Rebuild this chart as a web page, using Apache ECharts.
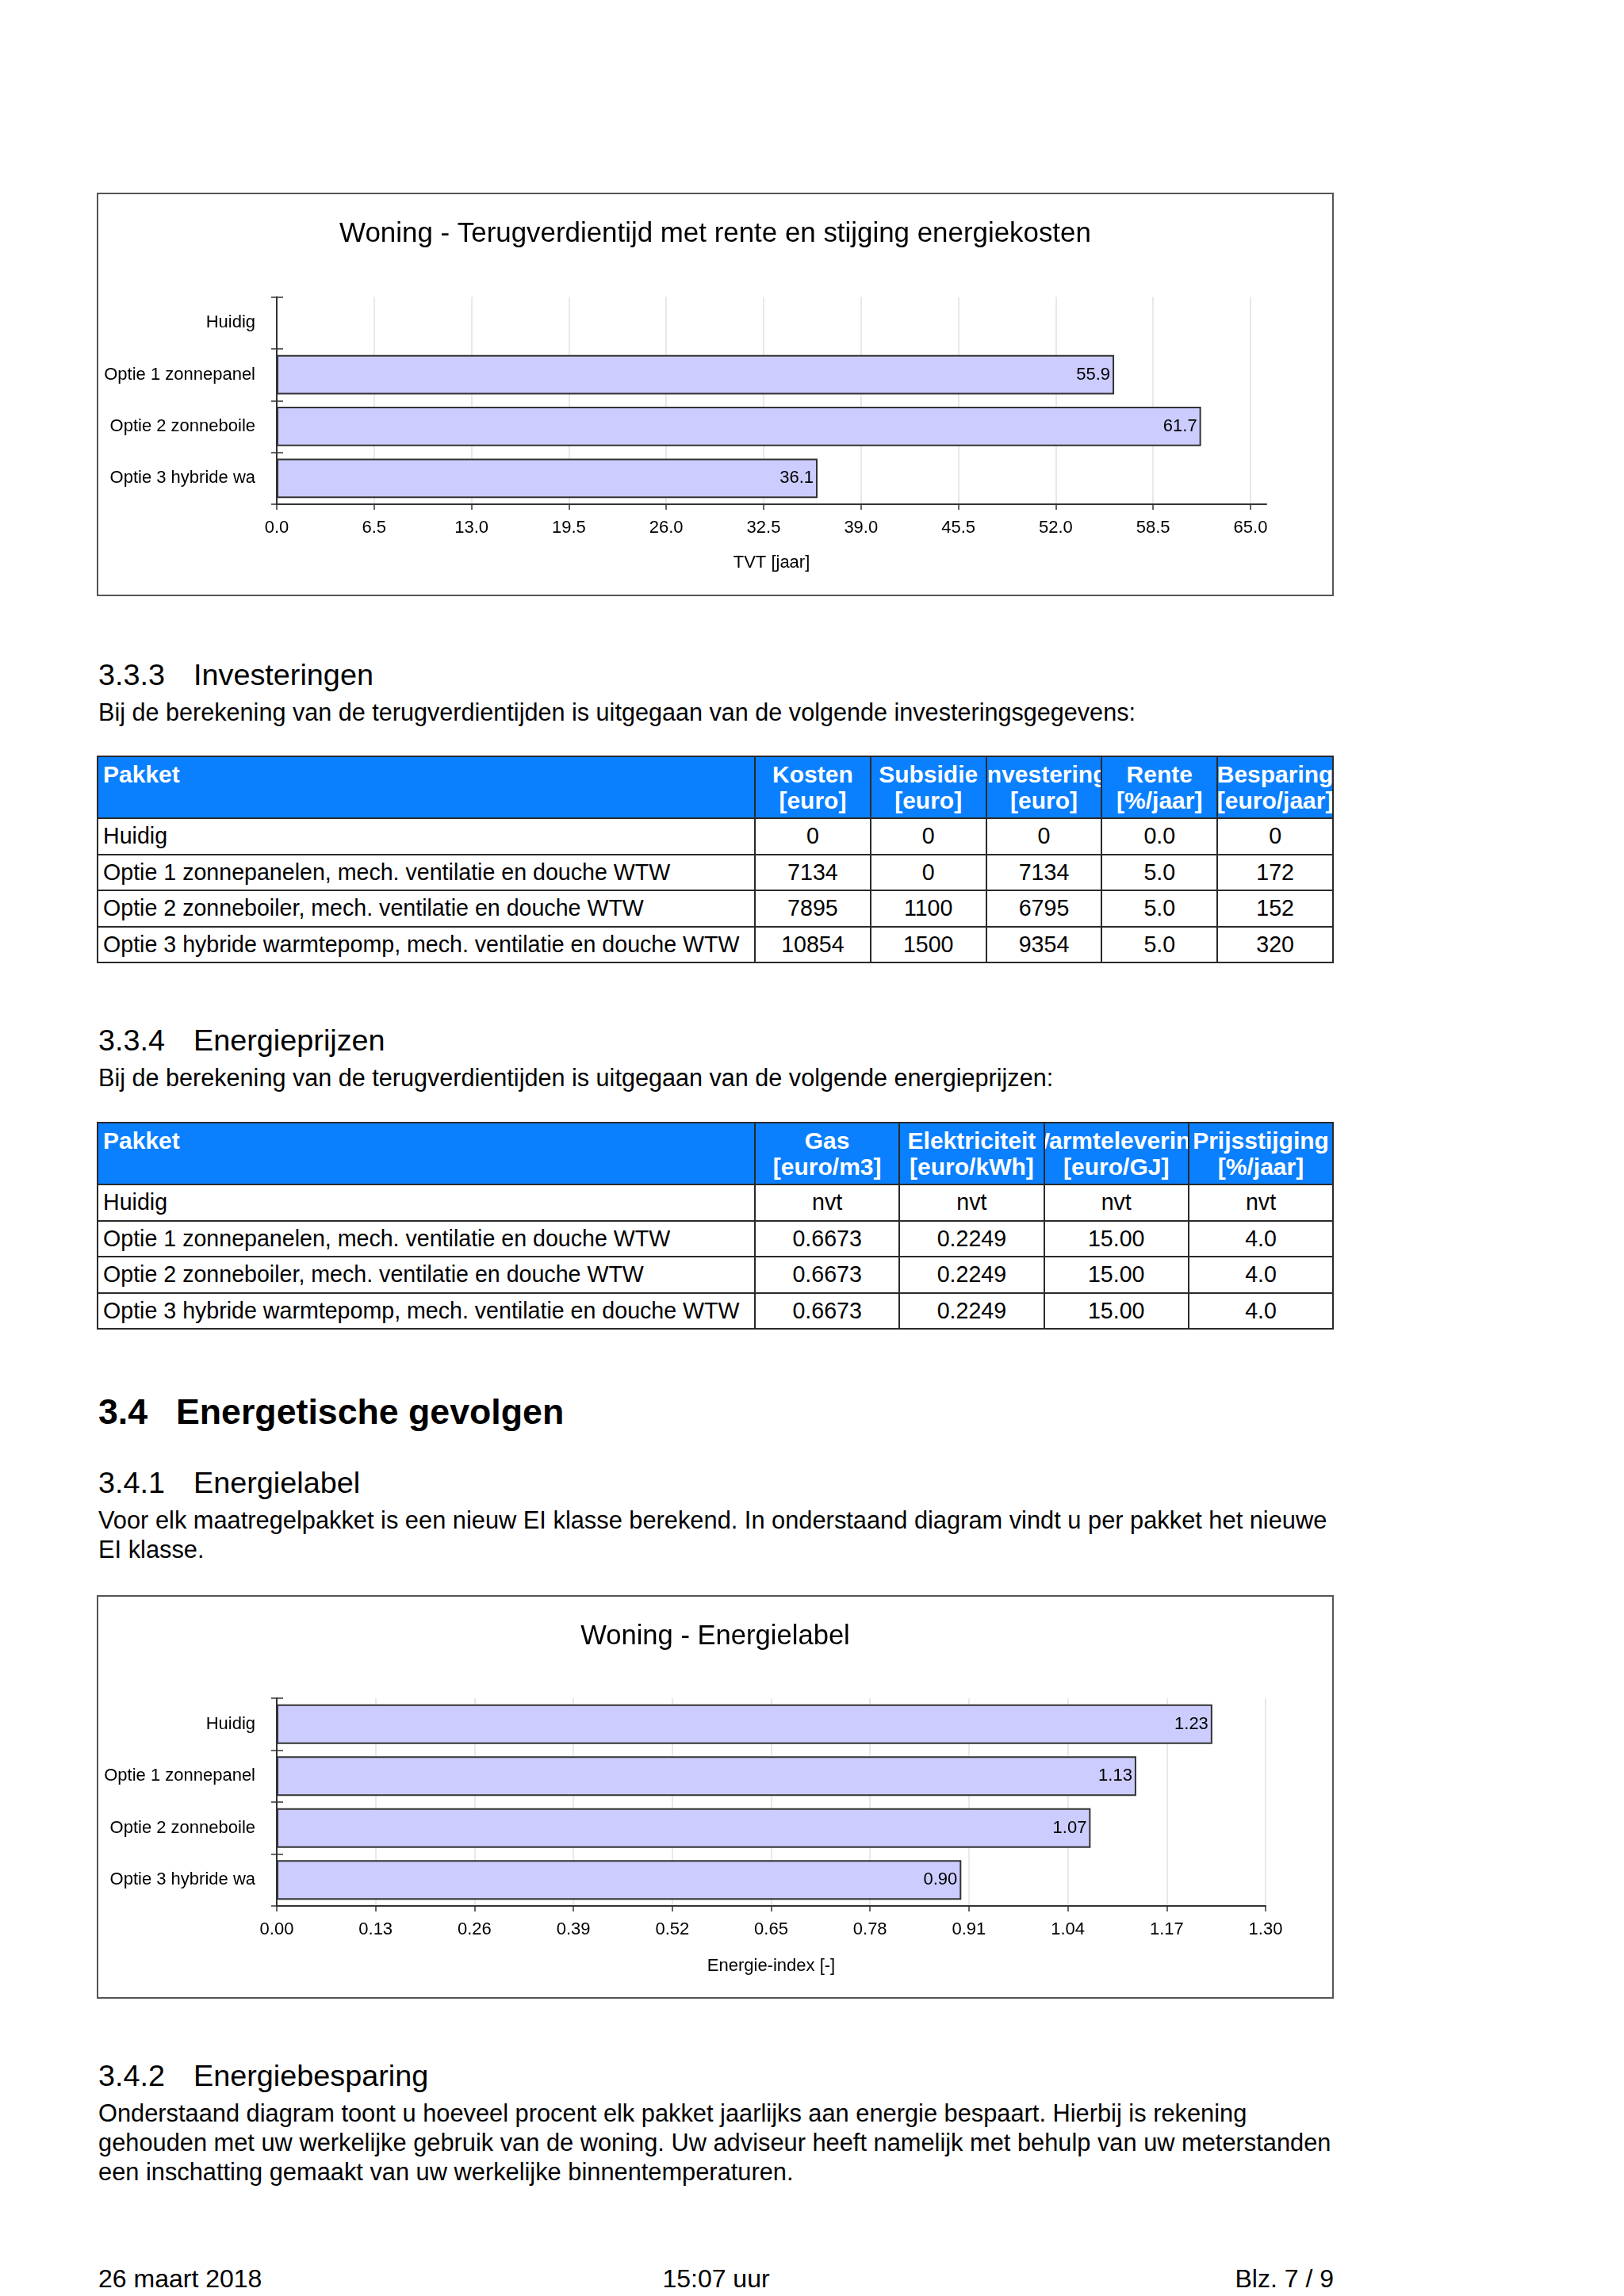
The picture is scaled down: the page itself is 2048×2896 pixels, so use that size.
<!DOCTYPE html>
<html>
<head>
<meta charset="utf-8">
<script src="https://cdn.jsdelivr.net/npm/echarts@6/dist/echarts.min.js"></script>
<style>
html,body{margin:0;padding:0;background:#fff;}
body{width:2048px;height:2896px;position:relative;font-family:"Liberation Sans",Arial,sans-serif;color:#000;overflow:hidden;}
.t{position:absolute;white-space:nowrap;}
.chart{position:absolute;left:122px;width:1560px;height:509px;}
.frame{position:absolute;left:122px;width:1560px;height:509px;border:2px solid #555;box-sizing:border-box;pointer-events:none;}
table{position:absolute;left:122px;border-collapse:collapse;table-layout:fixed;font-size:28.6px;}
td,th{border:2px solid #2a2a2a;padding:0;overflow:hidden;}
th{background:#0a80ff;color:#fff;font-weight:bold;vertical-align:top;height:76px;font-size:30px;}
th .h{display:flex;flex-direction:column;align-items:center;overflow:hidden;line-height:33px;padding-top:5px;}
th .h span{white-space:nowrap;}
th.first .h{align-items:flex-start;padding-left:6px;}
td{height:43.5px;text-align:center;white-space:nowrap;vertical-align:middle;}
td.first{text-align:left;padding-left:6px;}
</style>
</head>
<body>

<div class="t" style="left:124px;top:833px;font-size:37.8px;line-height:37.8px;">3.3.3</div>
<div class="t" style="left:244px;top:833px;font-size:37.8px;line-height:37.8px;">Investeringen</div>
<div class="t" style="left:124px;top:882.5px;font-size:30.6px;line-height:30.6px;">Bij de berekening van de terugverdientijden is uitgegaan van de volgende investeringsgegevens:</div>
<table id="tab1" style="top:953px;width:1560px;"></table>

<div class="t" style="left:124px;top:1294px;font-size:37.8px;line-height:37.8px;">3.3.4</div>
<div class="t" style="left:244px;top:1294px;font-size:37.8px;line-height:37.8px;">Energieprijzen</div>
<div class="t" style="left:124px;top:1343.5px;font-size:30.6px;line-height:30.6px;">Bij de berekening van de terugverdientijden is uitgegaan van de volgende energieprijzen:</div>
<table id="tab2" style="top:1415px;width:1560px;"></table>

<div class="t" style="left:124px;top:1758.5px;font-size:44.7px;line-height:44.7px;font-weight:bold;">3.4</div>
<div class="t" style="left:222px;top:1758.5px;font-size:44.7px;line-height:44.7px;font-weight:bold;">Energetische gevolgen</div>
<div class="t" style="left:124px;top:1852px;font-size:37.8px;line-height:37.8px;">3.4.1</div>
<div class="t" style="left:244px;top:1852px;font-size:37.8px;line-height:37.8px;">Energielabel</div>
<div class="t" style="left:124px;top:1898.5px;font-size:30.8px;line-height:37px;">Voor elk maatregelpakket is een nieuw EI klasse berekend. In onderstaand diagram vindt u per pakket het nieuwe<br>EI klasse.</div>

<div class="t" style="left:124px;top:2600px;font-size:37.8px;line-height:37.8px;">3.4.2</div>
<div class="t" style="left:244px;top:2600px;font-size:37.8px;line-height:37.8px;">Energiebesparing</div>
<div class="t" style="left:124px;top:2646.5px;font-size:30.8px;line-height:37px;">Onderstaand diagram toont u hoeveel procent elk pakket jaarlijks aan energie bespaart. Hierbij is rekening<br>gehouden met uw werkelijke gebruik van de woning. Uw adviseur heeft namelijk met behulp van uw meterstanden<br>een inschatting gemaakt van uw werkelijke binnentemperaturen.</div>

<div class="t" style="left:124px;top:2858px;font-size:32px;line-height:32px;">26 maart 2018</div>
<div class="t" style="left:124px;width:1558px;text-align:center;top:2858px;font-size:32px;line-height:32px;">15:07 uur</div>
<div class="t" style="left:124px;width:1558px;text-align:right;top:2858px;font-size:32px;line-height:32px;">Blz. 7 / 9</div>

<div id="c1" class="chart" style="top:243px;"></div>
<div class="frame" style="top:243px;"></div>
<div id="c2" class="chart" style="top:2012px;"></div>
<div class="frame" style="top:2012px;"></div>

<script>
// ---------- data ----------
const chartCategories = ['Huidig', 'Optie 1 zonnepanel', 'Optie 2 zonneboile', 'Optie 3 hybride wa'];
const tvtValues = [null, 55.9, 61.7, 36.1];
const tvtTicks = [0, 6.5, 13.0, 19.5, 26.0, 32.5, 39.0, 45.5, 52.0, 58.5, 65.0];
const eiValues = [1.23, 1.13, 1.07, 0.90];
const eiTicks = [0, 0.13, 0.26, 0.39, 0.52, 0.65, 0.78, 0.91, 1.04, 1.17, 1.30];

const pakketten = [
  'Huidig',
  'Optie 1 zonnepanelen, mech. ventilatie en douche WTW',
  'Optie 2 zonneboiler, mech. ventilatie en douche WTW',
  'Optie 3 hybride warmtepomp, mech. ventilatie en douche WTW'
];
const invHeaders = [['Kosten', '[euro]'], ['Subsidie', '[euro]'], ['Investering', '[euro]'], ['Rente', '[%/jaar]'], ['Besparing', '[euro/jaar]']];
const kosten = [0, 7134, 7895, 10854];
const subsidie = [0, 0, 1100, 1500];
const investering = [0, 7134, 6795, 9354];
const rente = [0.0, 5.0, 5.0, 5.0];
const besparing = [0, 172, 152, 320];

const prijsHeaders = [['Gas', '[euro/m3]'], ['Elektriciteit', '[euro/kWh]'], ['Warmtelevering', '[euro/GJ]'], ['Prijsstijging', '[%/jaar]']];
const gasPrijs = [null, 0.6673, 0.6673, 0.6673];
const elekPrijs = [null, 0.2249, 0.2249, 0.2249];
const warmtePrijs = [null, 15.00, 15.00, 15.00];
const prijsStijging = [null, 4.0, 4.0, 4.0];

// ---------- tables ----------
function buildTable(id, headers, cols, firstW, colW) {
  const tb = document.getElementById(id);
  let html = '<colgroup><col style="width:' + firstW + 'px">';
  headers.forEach(() => { html += '<col style="width:' + colW + 'px">'; });
  html += '</colgroup><tr><th class="first"><div class="h"><span>Pakket</span></div></th>';
  headers.forEach(h => { html += '<th><div class="h"><span>' + h[0] + '</span><span>' + h[1] + '</span></div></th>'; });
  html += '</tr>';
  pakketten.forEach((p, i) => {
    html += '<tr><td class="first">' + p + '</td>';
    cols.forEach(c => {
      const v = c.data[i];
      html += '<td>' + (v === null ? 'nvt' : v.toFixed(c.dec)) + '</td>';
    });
    html += '</tr>';
  });
  tb.innerHTML = html;
}
buildTable('tab1', invHeaders, [
  {data: kosten, dec: 0}, {data: subsidie, dec: 0}, {data: investering, dec: 0},
  {data: rente, dec: 1}, {data: besparing, dec: 0}
], 829, 145.8);
buildTable('tab2', prijsHeaders, [
  {data: gasPrijs, dec: 4}, {data: elekPrijs, dec: 4}, {data: warmtePrijs, dec: 2}, {data: prijsStijging, dec: 1}
], 829, 182.3);

// ---------- charts ----------
const FONT = 'Liberation Sans';
function barChart(el, cfg) {
  const chart = echarts.init(document.getElementById(el), null, {renderer: 'canvas'});
  const tickLine = {color: '#333', width: 1.5};
  chart.setOption({
    animation: false,
    backgroundColor: '#fff',
    title: {
      text: cfg.title, left: 'center', top: cfg.titleTop,
      textStyle: {fontFamily: FONT, fontSize: cfg.titleSize, fontWeight: 'normal', color: '#000', lineHeight: cfg.titleSize}
    },
    grid: {left: 227, right: cfg.right, top: cfg.top, bottom: cfg.bottom},
    xAxis: {
      type: 'value', min: 0, max: cfg.max, interval: cfg.ticks[1],
      name: cfg.axisName, nameLocation: 'middle', nameGap: cfg.nameGap,
      nameTextStyle: {fontFamily: FONT, fontSize: 22, color: '#000'},
      axisLine: {show: true, lineStyle: {color: '#333', width: 2}},
      axisTick: {show: true, length: 7, lineStyle: tickLine, customValues: cfg.ticks},
      axisLabel: {customValues: cfg.ticks, fontFamily: FONT, fontSize: 22, color: '#000', margin: 19,
        formatter: v => Number(v).toFixed(cfg.dec)},
      splitLine: {show: true, showMinLine: false, lineStyle: {color: '#e2e2e2', width: 1.5}}
    },
    yAxis: [{
      type: 'category', data: chartCategories, inverse: true,
      axisLine: {show: true, lineStyle: {color: '#333', width: 2}},
      axisTick: {show: true, length: 7, lineStyle: tickLine},
      axisLabel: {fontFamily: FONT, fontSize: 22, color: '#000', margin: 27},
      splitLine: {show: false}
    }, {
      type: 'category', data: chartCategories, inverse: true, position: 'left',
      axisLine: {show: false},
      axisTick: {show: true, inside: true, length: 8, lineStyle: tickLine},
      axisLabel: {show: false}, splitLine: {show: false}
    }],
    series: [{
      type: 'bar', data: cfg.data, barWidth: '76%', yAxisIndex: 0,
      itemStyle: {color: '#ccccff', borderColor: '#333', borderWidth: 2},
      label: {show: true, position: 'insideRight', distance: 5, fontFamily: FONT, fontSize: 22, color: '#000',
        formatter: p => (p.value == null ? '' : Number(p.value).toFixed(cfg.dec))}
    }]
  });
}

barChart('c1', {
  title: 'Woning - Terugverdientijd met rente en stijging energiekosten',
  titleTop: 30, titleSize: 34.9, right: 85, top: 131.5, bottom: 116,
  max: 66.06, ticks: tvtTicks, dec: 1, axisName: 'TVT [jaar]', nameGap: 63, data: tvtValues
});
barChart('c2', {
  title: 'Woning - Energielabel',
  titleTop: 30, titleSize: 34.6, right: 86, top: 130, bottom: 117,
  max: 1.30, ticks: eiTicks, dec: 2, axisName: 'Energie-index [-]', nameGap: 65, data: eiValues
});
</script>
</body>
</html>
